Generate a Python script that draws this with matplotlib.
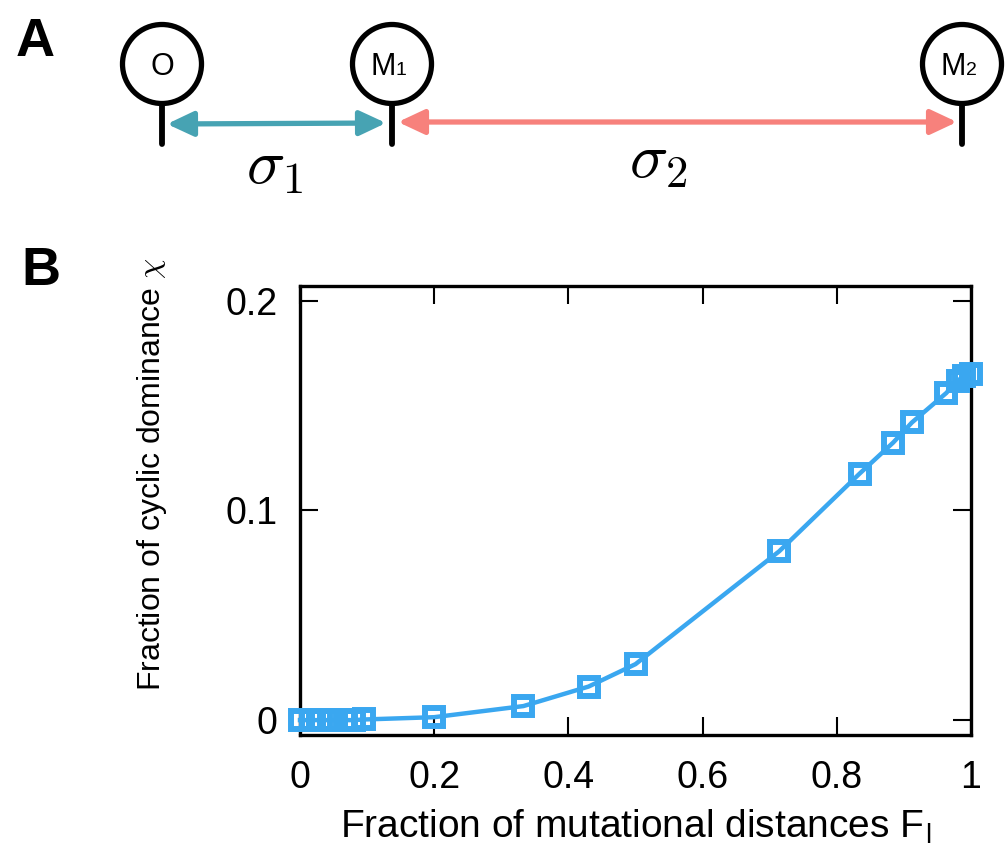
import matplotlib
matplotlib.use("Agg")
import matplotlib.pyplot as plt
from matplotlib.patches import Circle, FancyArrowPatch

plt.rcParams['font.family'] = ['Liberation Sans', 'DejaVu Sans']
plt.rcParams['mathtext.fontset'] = 'cm'

# Data
frac_dist = [0.0, 0.016, 0.032, 0.048, 0.067, 0.08, 0.095, 0.2, 0.333, 0.43, 0.5,
             0.714, 0.834, 0.884, 0.912, 0.963, 0.98, 0.99, 1.0]
frac_cyclic = [0.0, 0.0, 0.0, 0.0, 0.0, 0.0, 0.0003, 0.0014, 0.0067, 0.016, 0.0267,
               0.0805, 0.1176, 0.1324, 0.142, 0.156, 0.162, 0.164, 0.165]
xticks = [0, 0.2, 0.4, 0.6, 0.8, 1]
xticklabels = ['0', '0.2', '0.4', '0.6', '0.8', '1']
yticks = [0, 0.1, 0.2]
yticklabels = ['0', '0.1', '0.2']
node_names = ['O', 'M', 'M']
node_subs = ['', '1', '2']

W, H = 1006, 849
fig = plt.figure(figsize=(W / 100, H / 100), dpi=100)

# ---------- Panel A (pixel coordinate overlay) ----------
axA = fig.add_axes([0, 0, 1, 1])
axA.set_xlim(0, W)
axA.set_ylim(H, 0)
axA.axis('off')

node_x = [162, 392, 962]
cy, r = 64, 39.5
for nx, name, sub in zip(node_x, node_names, node_subs):
    axA.add_patch(Circle((nx, cy), r, fill=False, lw=3.8, ec='black'))
    axA.plot([nx, nx], [cy + r, cy + r + 40], color='black', lw=4.2,
             solid_capstyle='round')
    if sub:
        axA.text(nx + 4, cy + 11, name, ha='right', va='baseline', fontsize=22)
        axA.text(nx + 4, cy + 11, sub, ha='left', va='baseline', fontsize=14)
    else:
        axA.text(nx, cy + 11, name, ha='center', va='baseline', fontsize=22)

teal = '#47A3B3'
pink = '#F7817C'
arr1 = FancyArrowPatch((167, 124), (386, 123),
                       arrowstyle='<|-|>,head_length=1.6,head_width=0.75',
                       mutation_scale=10, color=teal, lw=3.8,
                       shrinkA=0, shrinkB=0)
arr2 = FancyArrowPatch((398, 122), (957, 122),
                       arrowstyle='<|-|>,head_length=1.6,head_width=0.75',
                       mutation_scale=10, color=pink, lw=3.8,
                       shrinkA=0, shrinkB=0)
axA.add_patch(arr1)
axA.add_patch(arr2)
axA.text(275, 166, r'$\sigma_1$', ha='center', va='center', fontsize=46)
axA.text(658, 160, r'$\sigma_2$', ha='center', va='center', fontsize=46)

fig.text(35 / W, 1 - 42 / H, 'A', fontsize=39, fontweight='heavy',
         ha='center', va='center')
fig.text(41 / W, 1 - 271 / H, 'B', fontsize=39, fontweight='heavy',
         ha='center', va='center')

# ---------- Panel B ----------
left, right = 300 / W, 971 / W
bottom, top = 1 - 735 / H, 1 - 286 / H
ax = fig.add_axes([left, bottom, right - left, top - bottom])
blue = '#3AA7F0'
ax.plot(frac_dist, frac_cyclic, color=blue, lw=3.2, marker='s',
        markersize=13.5, markerfacecolor='none', markeredgecolor=blue,
        markeredgewidth=4.3, clip_on=False, zorder=3)
ax.set_xlim(0, 1)
ax.set_ylim(-0.0071, 0.2071)
ax.set_xticks(xticks)
ax.set_xticklabels(xticklabels)
ax.set_yticks(yticks)
ax.set_yticklabels(yticklabels)
ax.tick_params(direction='in', length=13, width=1.5, labelsize=27,
               top=True, right=True, pad=18)
ax.tick_params(axis='y', pad=16)
for s in ax.spines.values():
    s.set_linewidth(2.4)
ax.set_xlabel('Fraction of mutational distances F$_\\mathregular{l}$',
              fontsize=28, labelpad=8)
fig.text(152 / W, 1 - 474 / H, 'Fraction of cyclic dominance $\\chi$',
         rotation=90, ha='center', va='center', fontsize=23)

fig.savefig('out.png', dpi=100)
